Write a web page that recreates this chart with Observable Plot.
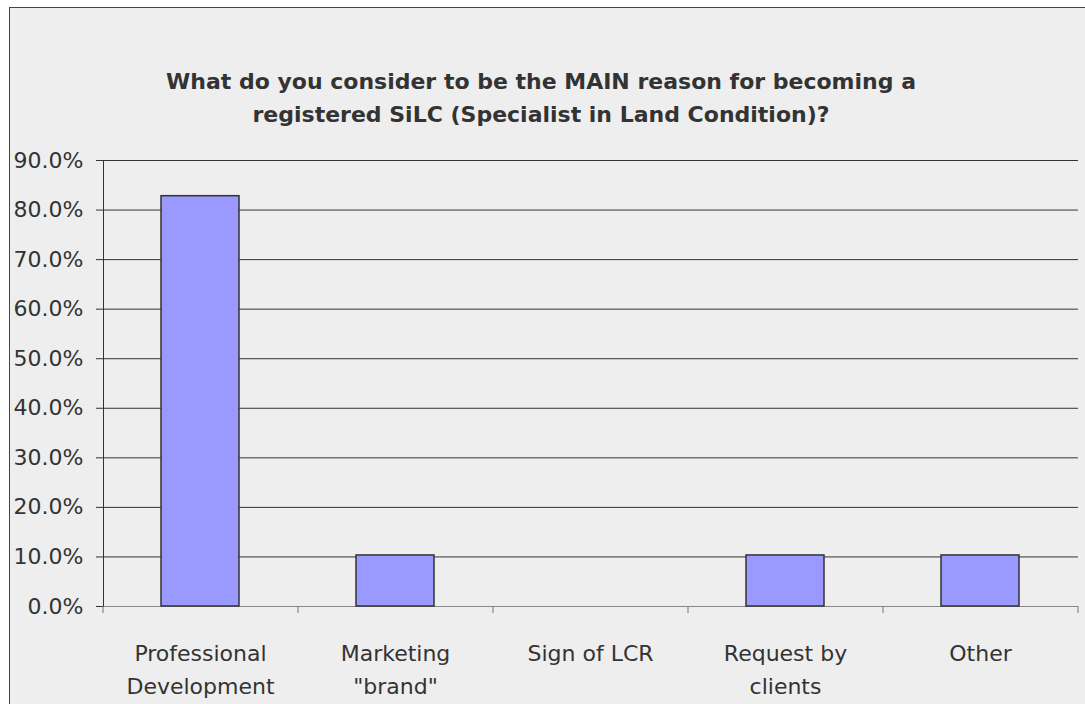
<!DOCTYPE html>
<html><head><meta charset="utf-8">
<script src="https://cdn.jsdelivr.net/npm/d3@7"></script>
<script src="https://cdn.jsdelivr.net/npm/@observablehq/plot@0.6"></script>
<style>
body{margin:0;background:#fff;overflow:hidden;}
#frame{position:absolute;left:9px;top:7px;width:1100px;height:720px;background:#eeeeee;border:1px solid #444;box-sizing:border-box;}
#title{position:absolute;left:0;top:65px;width:1082px;text-align:center;font-family:"DejaVu Sans",sans-serif;font-weight:bold;font-size:22px;line-height:33px;color:#333;}
#chart{position:absolute;left:0;top:130px;}
</style></head>
<body>
<div id="frame"></div>
<div id="title">What do you consider to be the MAIN reason for becoming a<br>registered SiLC (Specialist in Land Condition)?</div>
<div id="chart"></div>
<script>
const categories = ["Professional\nDevelopment", "Marketing\n\"brand\"", "Sign of LCR", "Request by\nclients", "Other"];
const values = [82.8, 10.3, 0, 10.3, 10.3];
const yTicks = [0, 10, 20, 30, 40, 50, 60, 70, 80, 90];

const data = categories.map((c, i) => ({category: c, value: values[i]}));

const W = 1085, H = 574, mL = 103, mR = 7, mT = 30, mB = 98;
const step = (W - mL - mR) / categories.length;

const chart = Plot.plot({
  width: W, height: H,
  marginLeft: mL, marginRight: mR, marginTop: mT, marginBottom: mB,
  style: {background: "transparent", fontFamily: "DejaVu Sans, sans-serif", fontSize: "22px", color: "#333"},
  x: {type: "band", domain: categories, paddingInner: 0.6, paddingOuter: 0.3, label: null},
  y: {domain: [0, 90], label: null},
  marks: [
    Plot.gridY(yTicks.filter(v => v > 0), {stroke: "#333", strokeOpacity: 1, strokeWidth: 1}),
    Plot.ruleY([0], {stroke: "#888", strokeWidth: 1}),
    Plot.barY(data, {filter: d => d.value > 0, x: "category", y: "value", fill: "#9999ff", stroke: "#333", strokeWidth: 1.5}),
    Plot.frame({anchor: "left", stroke: "#333"}),
    Plot.axisY({ticks: yTicks, tickSize: 7, tickPadding: 13, tickFormat: d => d.toFixed(1) + "%", stroke: "#333", fill: "#333", label: null}),
    Plot.axisX({tickSize: 0, tickPadding: 31, lineHeight: 1.5, fill: "#333", label: null}),
    Plot.ruleX(categories, {x: d => d, dx: -step / 2, y1: 0, y2: 0, insetBottom: -7, stroke: "#777"}),
    Plot.ruleX([categories[categories.length - 1]], {x: d => d, dx: step / 2, y1: 0, y2: 0, insetBottom: -7, stroke: "#777"})
  ]
});
document.getElementById("chart").appendChild(chart);
</script>
</body></html>
